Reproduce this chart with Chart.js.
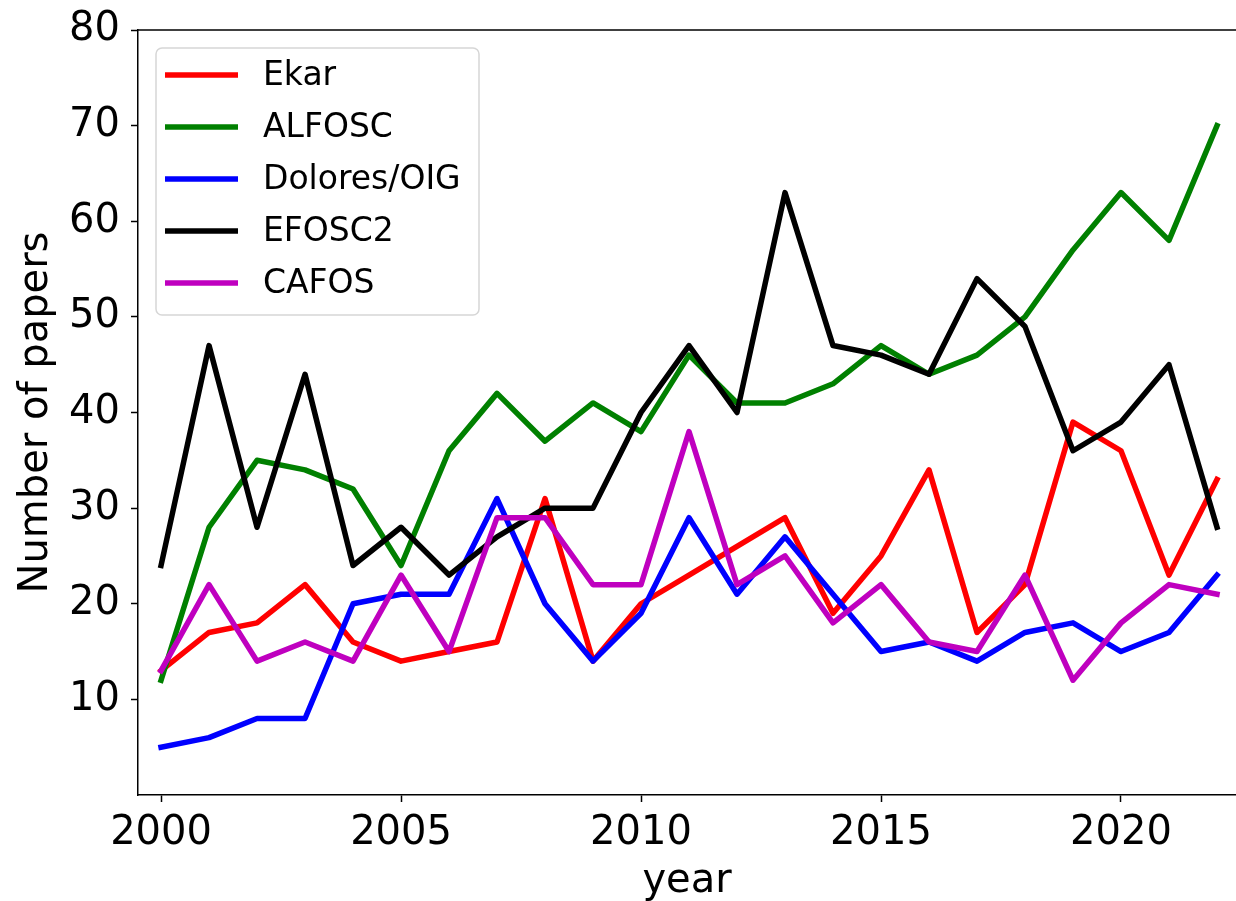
<!DOCTYPE html>
<html>
<head>
<meta charset="utf-8">
<title>Number of papers per year</title>
<script src="https://cdn.jsdelivr.net/npm/chart.js@4.4.1/dist/chart.umd.min.js"></script>
<style>
  html, body { margin: 0; padding: 0; background: #ffffff; overflow: hidden; }
  canvas { display: block; }
</style>
</head>
<body>
<canvas id="papers" width="1236" height="901"></canvas>
<script>
// Publication year
const years = [2000, 2001, 2002, 2003, 2004, 2005, 2006, 2007, 2008, 2009, 2010,
               2011, 2012, 2013, 2014, 2015, 2016, 2017, 2018, 2019, 2020, 2021, 2022];

// Papers per instrument and year
const ekar    = [13, 17, 18, 22, 16, 14, 15, 16, 31, 14, 20, 23, 26, 29, 19, 25, 34, 17, 22, 39, 36, 23, 33];
const alfosc  = [12, 28, 35, 34, 32, 24, 36, 42, 37, 41, 38, 46, 41, 41, 43, 47, 44, 46, 50, 57, 63, 58, 70];
const dolores = [ 5,  6,  8,  8, 20, 21, 21, 31, 20, 14, 19, 29, 21, 27, 21, 15, 16, 14, 17, 18, 15, 17, 23];
const efosc2  = [24, 47, 28, 44, 24, 28, 23, 27, 30, 30, 40, 47, 40, 63, 47, 46, 44, 54, 49, 36, 39, 45, 28];
const cafos   = [13, 22, 14, 16, 14, 23, 15, 29, 29, 22, 22, 38, 22, 25, 18, 22, 16, 15, 23, 12, 18, 22, 21];

const seriesNames  = ['Ekar', 'ALFOSC', 'Dolores/OIG', 'EFOSC2', 'CAFOS'];
const seriesValues = [ekar, alfosc, dolores, efosc2, cafos];
const seriesColors = ['#ff0000', '#008000', '#0000ff', '#000000', '#bf00bf'];

// Axis ticks
const xTickValues = [2000, 2005, 2010, 2015, 2020];
const yTickValues = [10, 20, 30, 40, 50, 60, 70, 80];

// Axis limits
const X_MIN = 1999.52;
const X_MAX = 2022.396;
const Y_MIN = 0;
const Y_MAX = 80;

const FONT = "'DejaVu Sans', 'Liberation Sans', sans-serif";

// Framed legend inside the upper-left corner of the plot
const boxLegend = {
  id: 'boxLegend',
  afterDatasetsDraw(chart, args, opts) {
    const ctx = chart.ctx;
    const { x, y, w, h, r, firstRow, rowH, lineX0, lineX1, textX, fontSize } = opts;
    ctx.save();
    ctx.beginPath();
    ctx.moveTo(x + r, y);
    ctx.arcTo(x + w, y, x + w, y + h, r);
    ctx.arcTo(x + w, y + h, x, y + h, r);
    ctx.arcTo(x, y + h, x, y, r);
    ctx.arcTo(x, y, x + w, y, r);
    ctx.closePath();
    ctx.fillStyle = 'rgba(255,255,255,0.8)';
    ctx.fill();
    ctx.strokeStyle = '#d6d6d6';
    ctx.lineWidth = 1.5;
    ctx.stroke();

    ctx.font = fontSize + 'px ' + FONT;
    ctx.textAlign = 'left';
    ctx.textBaseline = 'middle';
    chart.data.datasets.forEach((ds, i) => {
      const cy = firstRow + i * rowH;
      ctx.beginPath();
      ctx.moveTo(lineX0, cy);
      ctx.lineTo(lineX1, cy);
      ctx.strokeStyle = ds.borderColor;
      ctx.lineWidth = ds.borderWidth;
      ctx.lineCap = 'butt';
      ctx.stroke();
      ctx.fillStyle = '#000000';
      ctx.fillText(ds.label, textX, cy + 1);
    });
    ctx.restore();
  }
};

// Top frame line of the axes
const topSpine = {
  id: 'topSpine',
  afterDraw(chart) {
    const { ctx, chartArea } = chart;
    ctx.save();
    ctx.beginPath();
    ctx.moveTo(chartArea.left, chartArea.top);
    ctx.lineTo(chartArea.right, chartArea.top);
    ctx.strokeStyle = '#000000';
    ctx.lineWidth = 1.5;
    ctx.stroke();
    ctx.restore();
  }
};

// Fixed axis box sizes so the plot area sits at a set place
function fitScale(size) {
  return (scale) => {
    if (scale.isHorizontal()) scale.height = size; else scale.width = size;
    scale.paddingTop = 0;
    scale.paddingBottom = 0;
    scale.paddingLeft = 0;
    scale.paddingRight = 0;
  };
}

const datasets = seriesNames.map((name, i) => ({
  label: name,
  data: years.map((yr, j) => ({ x: yr, y: seriesValues[i][j] })),
  borderColor: seriesColors[i],
  backgroundColor: seriesColors[i],
  borderWidth: 5.5,
  pointRadius: 0,
  pointHoverRadius: 0,
  tension: 0,
  fill: false,
  borderJoinStyle: 'round',
  borderCapStyle: 'square',
  order: seriesNames.length - i
}));

new Chart(document.getElementById('papers'), {
  type: 'line',
  data: { datasets },
  options: {
    responsive: false,
    animation: false,
    devicePixelRatio: 1,
    layout: { padding: { top: 30, left: 0, right: 0, bottom: 0 } },
    plugins: {
      legend: { display: false },
      tooltip: { enabled: false },
      boxLegend: {
        x: 156, y: 48, w: 323, h: 267, r: 6,
        firstRow: 75, rowH: 52,
        lineX0: 165, lineX1: 238, textX: 263,
        fontSize: 33
      }
    },
    scales: {
      x: {
        type: 'linear',
        min: X_MIN,
        max: X_MAX,
        afterBuildTicks: (scale) => { scale.ticks = xTickValues.map(v => ({ value: v })); },
        afterFit: fitScale(106),
        grid: { drawOnChartArea: false, drawTicks: true, tickLength: 7, tickWidth: 1.5, tickColor: '#000000' },
        border: { display: true, color: '#000000', width: 1.5 },
        ticks: {
          color: '#000000',
          font: { family: FONT, size: 40 },
          padding: 8,
          maxRotation: 0,
          autoSkip: false,
          callback: (v) => String(v)
        },
        title: {
          display: true,
          text: 'year',
          color: '#000000',
          font: { family: FONT, size: 40 },
          padding: { top: 0, bottom: -5 }
        }
      },
      y: {
        type: 'linear',
        min: Y_MIN,
        max: Y_MAX,
        afterBuildTicks: (scale) => { scale.ticks = yTickValues.map(v => ({ value: v })); },
        afterFit: fitScale(138),
        grid: { drawOnChartArea: false, drawTicks: true, tickLength: 7, tickWidth: 1.5, tickColor: '#000000' },
        border: { display: true, color: '#000000', width: 1.5 },
        ticks: {
          color: '#000000',
          font: { family: FONT, size: 40 },
          padding: 11,
          callback: (v) => String(v)
        },
        title: {
          display: true,
          text: 'Number of papers',
          color: '#000000',
          font: { family: FONT, size: 40 },
          padding: { top: 13, bottom: 0 }
        }
      }
    }
  },
  plugins: [boxLegend, topSpine]
});
</script>
</body>
</html>
